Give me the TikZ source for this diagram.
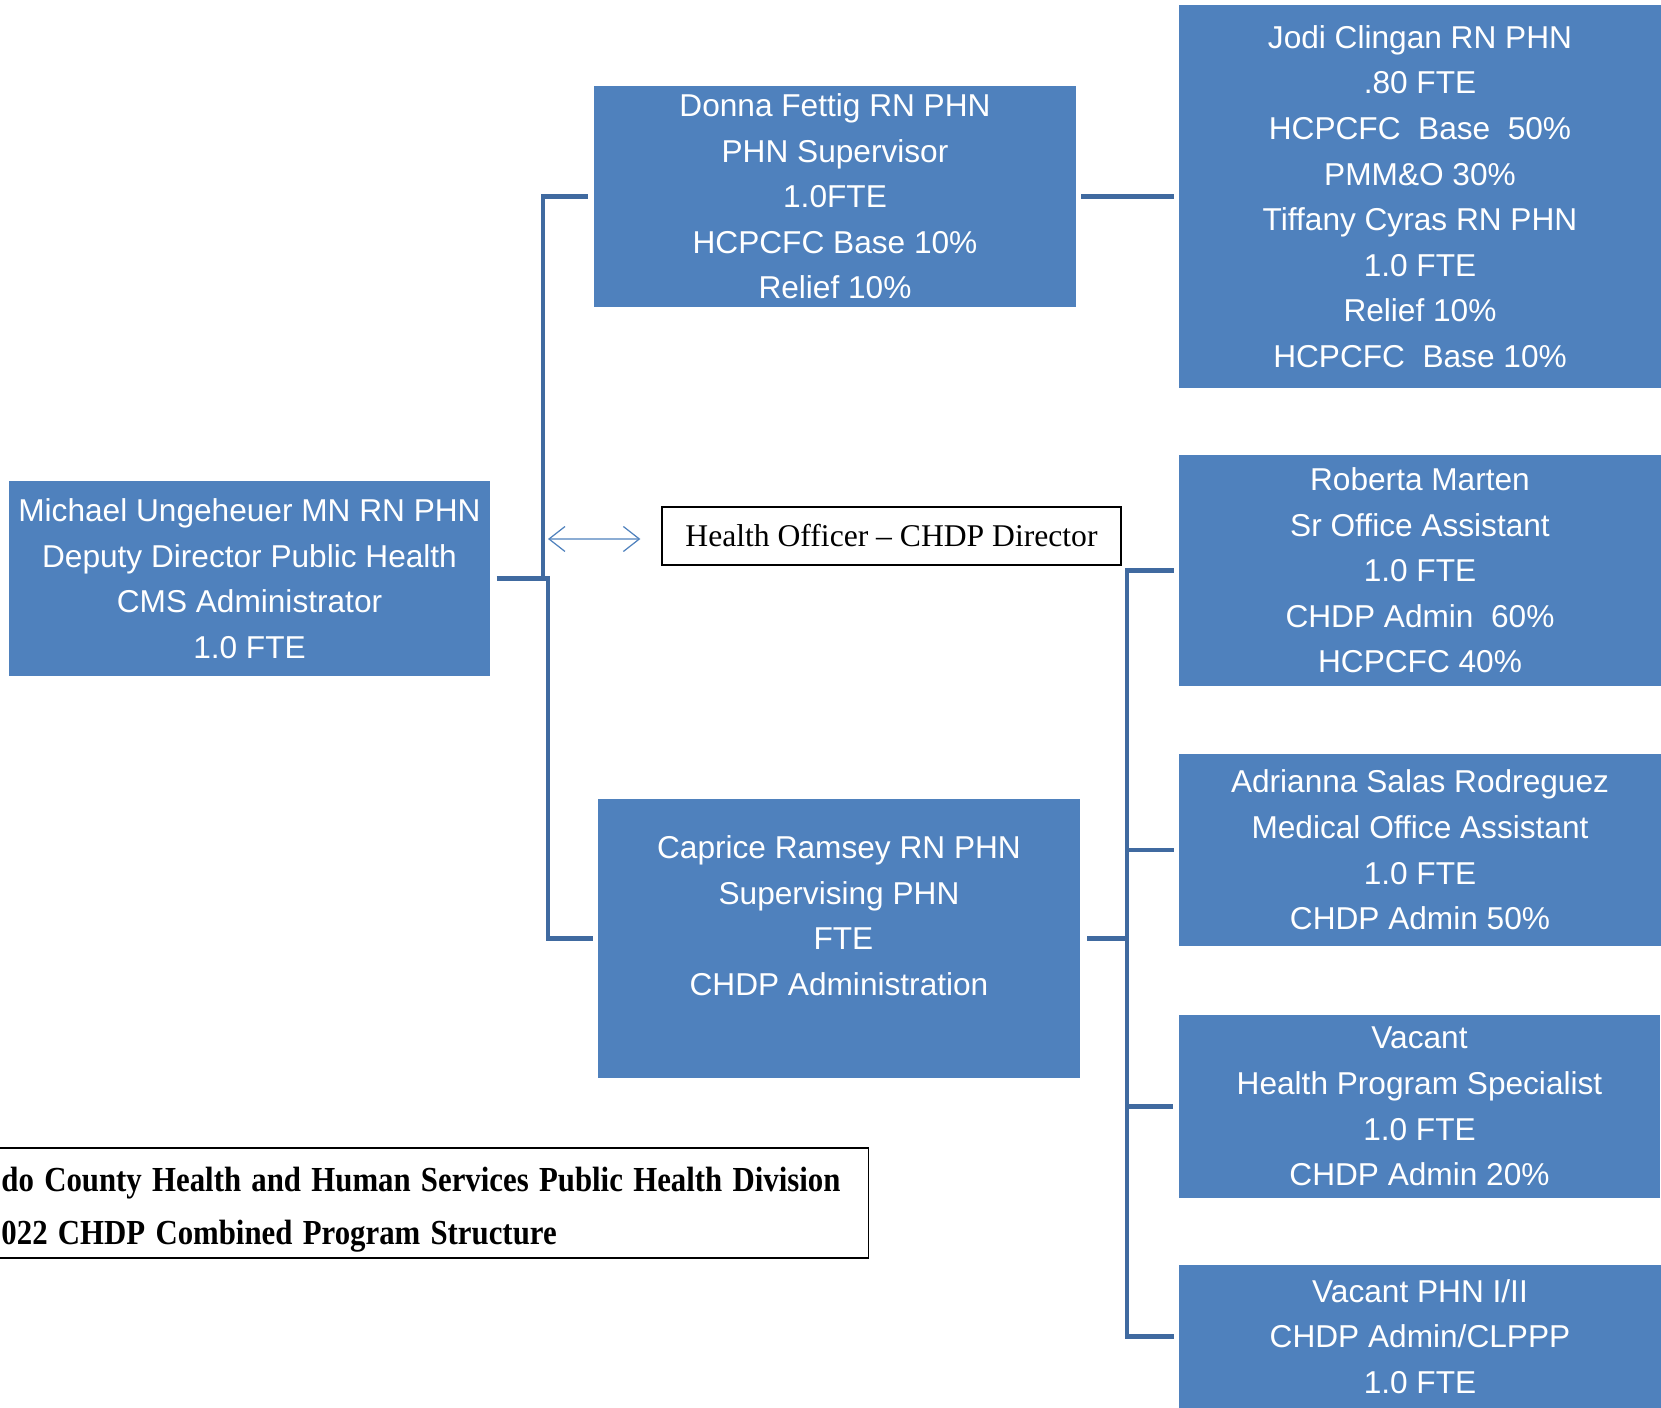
\documentclass[tikz,border=0pt]{standalone}
\usepackage{fontspec}
\setmainfont{Liberation Serif}
\newfontfamily\boxfont{Liberation Sans}
\usetikzlibrary{arrows.meta}
\definecolor{boxblue}{RGB}{79,129,189}
\definecolor{lineblue}{RGB}{64,106,160}
\newcommand{\titleline}[1]{\scalebox{0.877}[1]{#1}}

\begin{document}
\begin{tikzpicture}[x=0.02cm, y=-0.02cm,
  staff/.style={fill=boxblue, text=white, minimum width=9.64cm, inner sep=0.05cm, align=center,
    font=\boxfont\fontsize{18}{25.95}\selectfont},
  conn/.style={draw=lineblue, line width=2.4pt},
  dbl/.style={draw=boxblue, line width=0.7pt, {Straight Barb[length=0.32cm, width=0.5cm]}-{Straight Barb[length=0.32cm, width=0.5cm]}}]
\useasboundingbox (0,0) rectangle (1661,1408);
\clip (0,0) rectangle (1661,1408);

% Staff boxes
\node[staff, minimum height=3.9cm] (michael) at (249.5,578.5) {Michael Ungeheuer MN RN PHN\\Deputy Director Public Health\\CMS Administrator\\1.0 FTE};

\node[staff, minimum height=4.42cm] (donna) at (835,196.5) {Donna Fettig RN PHN\\PHN Supervisor\\1.0FTE\\HCPCFC Base 10\%\\Relief 10\%};

\node[staff, minimum height=5.58cm] (caprice) at (839,938.5) {Caprice Ramsey RN PHN\\Supervising PHN\\\ FTE\\CHDP Administration\\\mbox{}};

\node[staff, minimum height=7.66cm] (jodi) at (1420,196.5) {Jodi Clingan RN PHN\\.80 FTE\\HCPCFC\ \ Base\ \ 50\%\\PMM\&O 30\%\\Tiffany Cyras RN PHN\\1.0 FTE\\Relief 10\%\\HCPCFC\ \ Base 10\%};

\node[staff, minimum height=4.62cm] (roberta) at (1420,570.5) {Roberta Marten\\Sr Office Assistant\\1.0 FTE\\CHDP Admin\ \ 60\%\\HCPCFC 40\%};

\node[staff, minimum height=3.84cm] (adrianna) at (1420,850) {Adrianna Salas Rodreguez\\Medical Office Assistant\\1.0 FTE\\CHDP Admin 50\%};

\node[staff, minimum height=3.66cm] (vacant) at (1419.5,1106.5) {Vacant\\Health Program Specialist\\1.0 FTE\\CHDP Admin 20\%};

\node[staff, minimum height=2.86cm] (vacantphn) at (1420,1336.5) {Vacant PHN I/II\\CHDP Admin/CLPPP\\1.0 FTE};

% Health officer
\node[draw, line width=0.8pt, minimum width=9.18cm, minimum height=1.16cm, font=\fontsize{18}{22}\selectfont] (officer) at (891.5,536) {Health Officer -- CHDP Director};

% Title
\node[draw, line width=0.8pt, anchor=east, inner xsep=0.3cm, inner ysep=0.05cm, text width=17.04cm, minimum height=2.2cm, align=left,
  font=\bfseries\fontsize{20}{30}\selectfont] (title) at (869,1203) {\rule{0pt}{0.76cm}\titleline{do County Health and Human Services Public Health Division}\\\titleline{022 CHDP Combined Program Structure}};

% Connectors
\draw[conn] ([xshift=0.12cm]michael.east) -- ++(46,0) |- ([xshift=-0.12cm]donna.west);
\draw[conn] ([xshift=0.12cm]michael.east) -- ++(51,0) |- ([xshift=-0.1cm]caprice.west);
\draw[conn] ([xshift=0.1cm]donna.east) -- ([xshift=-0.1cm]jodi.west);
\foreach \n in {roberta, adrianna, vacant, vacantphn}
  \draw[conn] ([xshift=0.14cm]caprice.east) -- ++(40,0) |- ([xshift=-0.1cm]\n.west);

% Double arrow
\coordinate (arrowend) at (548,539);
\draw[dbl] (arrowend) -- ([xshift=-0.42cm, yshift=-0.06cm]officer.west);
\end{tikzpicture}
\end{document}
